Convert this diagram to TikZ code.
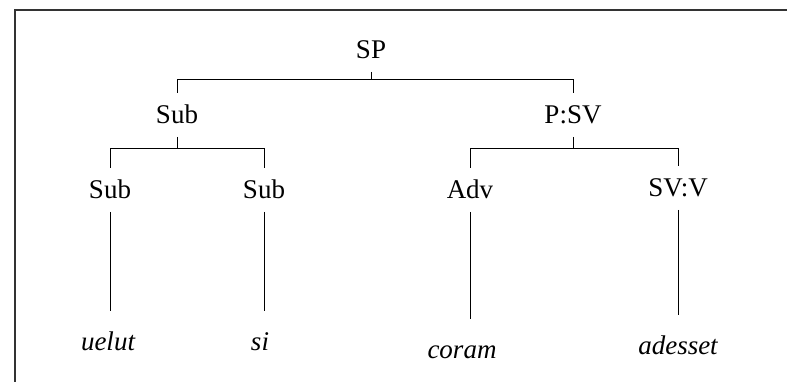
\documentclass[tikz,border=0pt]{standalone}
\usepackage{fontspec}
\setmainfont{Liberation Serif}
\tikzset{
  lab/.style={inner sep=0pt, outer sep=0pt, minimum height=44pt, text height=18pt, text depth=0pt, font=\fontsize{27}{31}\selectfont},
  word/.style={inner sep=0pt, outer sep=0pt, minimum height=62pt, text height=17pt, text depth=0pt, font=\fontsize{27}{31}\selectfont\itshape},
  br/.style={line width=0.9pt, black},
  frame/.style={line width=1.2pt, black!80}
}
\begin{document}
\begin{tikzpicture}[x=1pt,y=-1pt]
\useasboundingbox (0,0) rectangle (787,382);
\coordinate (f1) at (787,10);
\coordinate (f2) at (15,10);
\coordinate (f3) at (15,382);
\draw[frame] (f1) -- (f2) -- (f3);

\node[lab] (SP) at (371,50) {SP};
\node[lab] (Sub) at (177,115) {Sub};
\node[lab] (PSV) at (573,115) {P:SV};
\node[lab] (Sub1) at (110,190) {Sub};
\node[lab] (Sub2) at (264,190) {Sub};
\node[lab] (Adv) at (470,190) {Adv};
\node[lab] (SVV) at (678,188) {SV:V};

\node[word] (uelut) at (108,342) {uelut};
\node[word] (si) at (260,342) {si};
\node[word] (coram) at (462,350) {coram};
\node[word] (adesset) at (678,346) {adesset};

\coordinate (b1) at (0,79);
\coordinate (b2) at (0,148);

\draw[br] (SP.south) -- (SP.south |- b1);
\draw[br] (Sub.north) -- (Sub.north |- b1) -| (PSV.north);

\draw[br] (Sub.south) -- (Sub.south |- b2);
\draw[br] (Sub1.north) -- (Sub1.north |- b2) -| (Sub2.north);

\draw[br] (PSV.south) -- (PSV.south |- b2);
\draw[br] (Adv.north) -- (Adv.north |- b2) -| (SVV.north);

\draw[br] (Sub1.south) -- (Sub1.south |- uelut.north);
\draw[br] (Sub2.south) -- (Sub2.south |- si.north);
\draw[br] (Adv.south) -- (Adv.south |- coram.north);
\draw[br] (SVV.south) -- (SVV.south |- adesset.north);
\end{tikzpicture}
\end{document}
